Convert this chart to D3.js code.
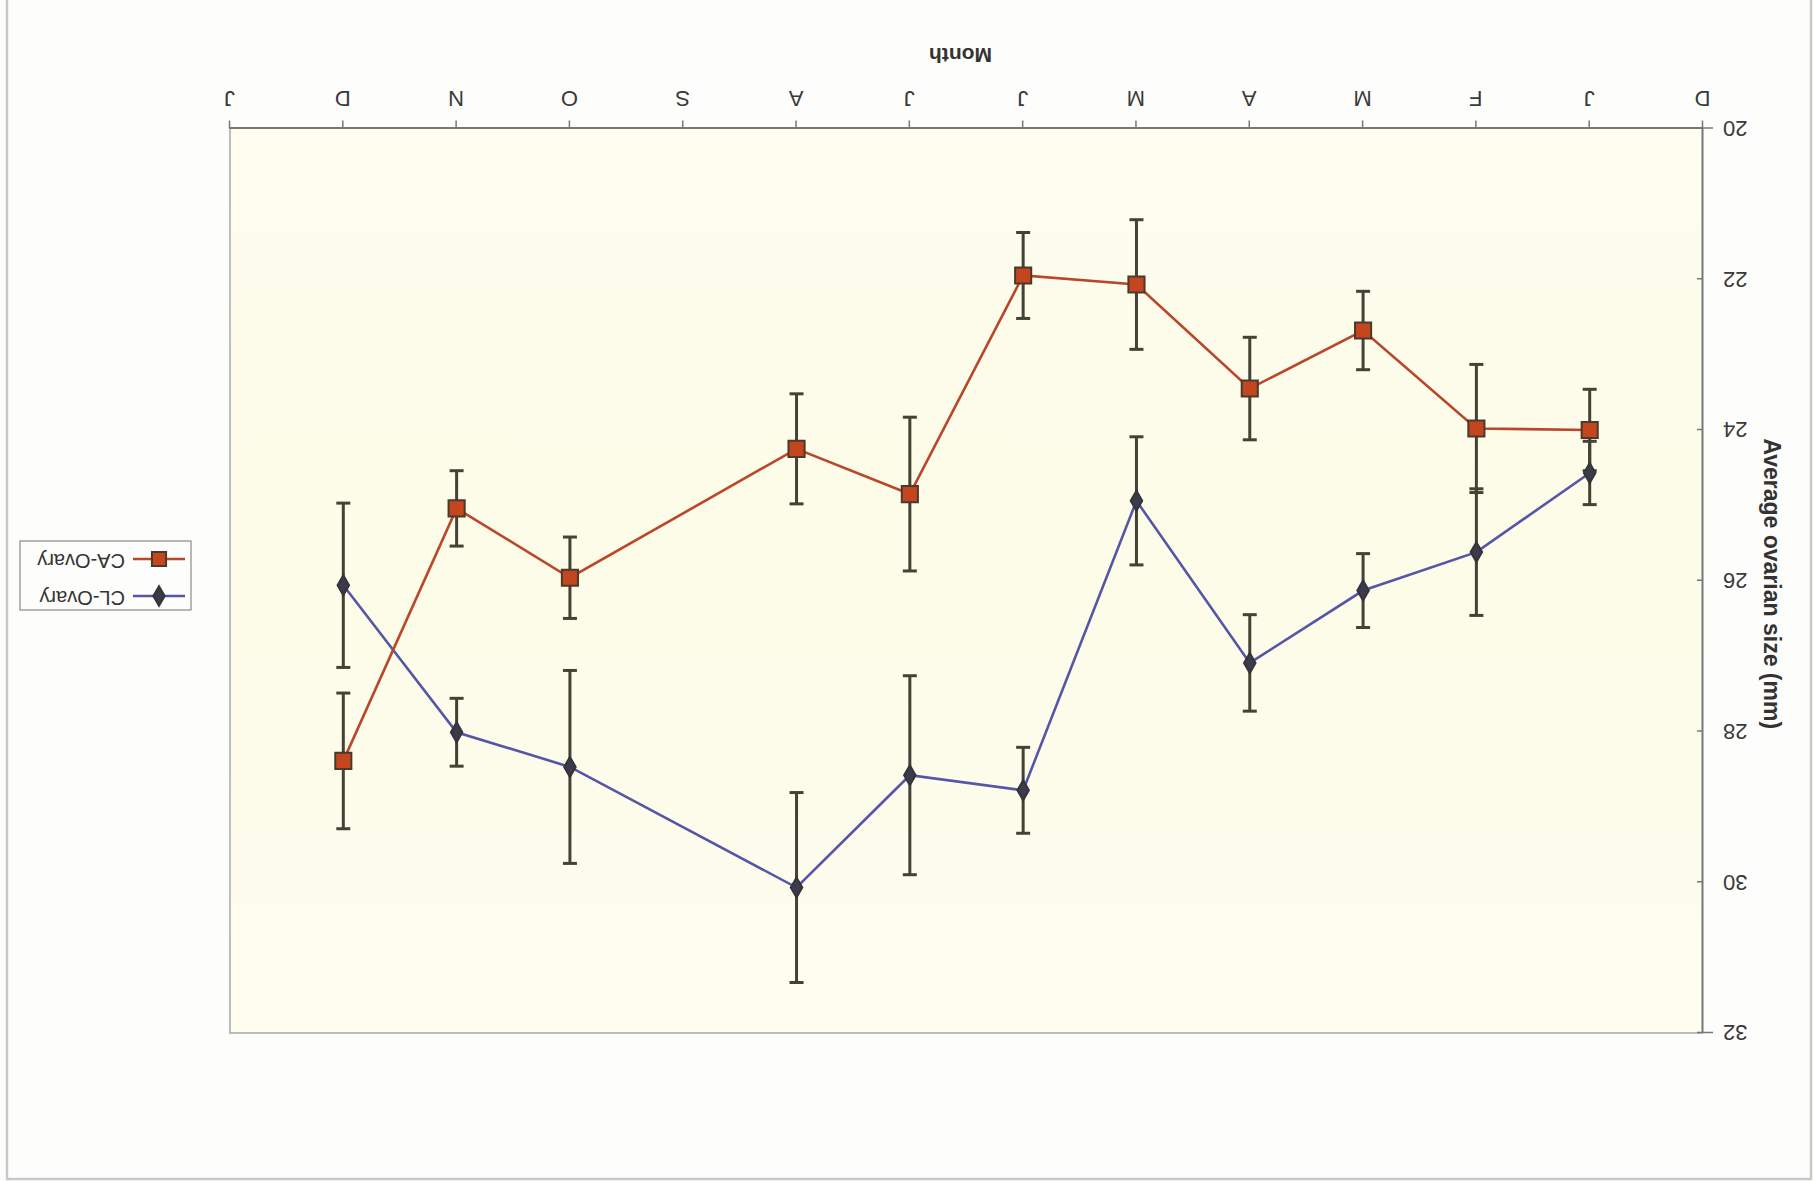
<!DOCTYPE html>
<html>
<head>
<meta charset="utf-8">
<script src="https://cdn.jsdelivr.net/npm/d3@7"></script>
<style>
  html, body { margin: 0; padding: 0; background: #fdfdfc; }
  svg { display: block; }
  text { font-family: "Liberation Sans", Arial, Helvetica, sans-serif; }
</style>
</head>
<body>
<svg id="chart" width="1814" height="1181"></svg>
<script>
// Month tick labels (December of previous year through January of next year)
const tickLabels = ["D", "J", "F", "M", "A", "M", "J", "J", "A", "S", "O", "N", "D", "J"];
// Month position on the axis for each observation (1 = Jan ... 12 = Dec)
const monthIndex = [1, 2, 3, 4, 5, 6, 7, 8, 9, 10, 11, 12];
// Average ovarian size (mm) per month; September was not sampled
const caOvary = [24.00, 23.98, 22.68, 23.45, 22.07, 21.95, 24.85, 24.25, null, 25.96, 25.04, 28.39];
const caError = [0.54, 0.85, 0.52, 0.68, 0.86, 0.57, 1.02, 0.73, null, 0.54, 0.50, 0.90];
const clOvary = [24.57, 25.62, 26.13, 27.09, 24.94, 28.78, 28.58, 30.07, null, 28.47, 28.01, 26.06];
const clError = [0.42, 0.84, 0.49, 0.64, 0.85, 0.57, 1.32, 1.26, null, 1.28, 0.45, 1.09];
const yTicks = [20, 22, 24, 26, 28, 30, 32];

const W = 1814, H = 1181;
const svg = d3.select("#chart");

// The whole figure is presented turned half a revolution
const root = svg.append("g").attr("transform", `rotate(180, ${W / 2}, ${H / 2})`);

// Outer frame
root.append("rect").attr("x", 0).attr("y", 0).attr("width", W).attr("height", H).attr("fill", "#fdfdfc");
root.append("path")
  .attr("d", `M3,${H} L3,2 L1807,2 L1807,${H}`)
  .attr("fill", "none").attr("stroke", "#c9c9c9").attr("stroke-width", 2.5);

const plot = { left: 111, right: 1584, top: 148, bottom: 1052.5 };

const x = d3.scaleLinear().domain([0, tickLabels.length - 1]).range([plot.left, plot.right]);
const y = d3.scaleLinear().domain([20, 32]).range([plot.bottom, plot.top]);

// Plot background
const grad = svg.append("defs").append("linearGradient")
  .attr("id", "bg").attr("x1", 0).attr("y1", 0).attr("x2", 0).attr("y2", 1);
grad.append("stop").attr("offset", "0%").attr("stop-color", "#fefdef");
grad.append("stop").attr("offset", "55%").attr("stop-color", "#fdfce8");
grad.append("stop").attr("offset", "100%").attr("stop-color", "#fefdef");
root.append("rect")
  .attr("x", plot.left).attr("y", plot.top)
  .attr("width", plot.right - plot.left).attr("height", plot.bottom - plot.top)
  .attr("fill", "url(#bg)");

// Plot area border (top and right)
root.append("path")
  .attr("d", `M${plot.left},${plot.top} L${plot.right},${plot.top} L${plot.right},${plot.bottom}`)
  .attr("fill", "none").attr("stroke", "#a8a8a8").attr("stroke-width", 1.5);

// X axis
const xAxis = d3.axisBottom(x)
  .tickValues(d3.range(tickLabels.length))
  .tickFormat(i => tickLabels[i])
  .tickSizeInner(8).tickSizeOuter(0).tickPadding(14);
const gx = root.append("g").attr("transform", `translate(0,${plot.bottom})`).call(xAxis);
gx.select(".domain").attr("stroke", "#777").attr("stroke-width", 2);
gx.selectAll(".tick line").attr("stroke", "#777").attr("stroke-width", 1.5);
gx.selectAll(".tick text").attr("fill", "#3a3a3a").attr("font-size", 22);

// Y axis (tick marks point into the plot)
const yAxis = d3.axisLeft(y).tickValues(yTicks).tickSizeInner(-6).tickSizeOuter(0).tickPadding(14);
const gy = root.append("g").attr("transform", `translate(${plot.left},0)`).call(yAxis);
gy.select(".domain").attr("stroke", "#777").attr("stroke-width", 2);
gy.selectAll(".tick line").attr("stroke", "#777").attr("stroke-width", 1.5);
gy.selectAll(".tick text").attr("fill", "#3a3a3a").attr("font-size", 22)
  .attr("x", -20);
// Short outward stubs at the ends of the value axis
gy.selectAll(".tick").filter(d => d === 20 || d === 32).append("line")
  .attr("x1", 0).attr("x2", -10).attr("stroke", "#777").attr("stroke-width", 1.5);

// Axis titles
root.append("text")
  .attr("x", (plot.left + plot.right) / 2 + 6).attr("y", 1127)
  .attr("text-anchor", "middle").attr("dominant-baseline", "middle")
  .attr("font-size", 21).attr("font-weight", "bold").attr("fill", "#333")
  .text("Month");
root.append("text")
  .attr("transform", `translate(44,${(plot.top + plot.bottom) / 2 - 3}) rotate(-90)`)
  .attr("text-anchor", "middle").attr("dominant-baseline", "middle")
  .attr("font-size", 23).attr("font-weight", "bold").attr("fill", "#333")
  .text("Average ovarian size (mm)");

// Series
const series = [
  { name: "CL-Ovary", values: clOvary, errors: clError, color: "#5656a8", shape: "diamond" },
  { name: "CA-Ovary", values: caOvary, errors: caError, color: "#b9472a", shape: "square" }
];

const symbolFor = s => s.shape === "square"
  ? d3.symbol().type(d3.symbolSquare).size(260)
  : d3.symbol().type(d3.symbolDiamond).size(115);

series.forEach(s => {
  s.points = monthIndex.map((m, i) => ({ m, v: s.values[i], e: s.errors[i] }))
    .filter(p => p.v != null);
});

const line = d3.line().x(p => x(p.m)).y(p => y(p.v));

// Lines
series.forEach(s => {
  root.append("path").datum(s.points)
    .attr("d", line).attr("fill", "none")
    .attr("stroke", s.color).attr("stroke-width", 2.6);
});

// Error bars
const errColor = "#424235";
series.forEach(s => {
  const g = root.append("g");
  s.points.forEach(p => {
    const cx = x(p.m), y0 = y(p.v - p.e), y1 = y(p.v + p.e);
    g.append("line").attr("x1", cx).attr("x2", cx).attr("y1", y0).attr("y2", y1)
      .attr("stroke", errColor).attr("stroke-width", 3);
    [y0, y1].forEach(yy => g.append("line")
      .attr("x1", cx - 7).attr("x2", cx + 7).attr("y1", yy).attr("y2", yy)
      .attr("stroke", errColor).attr("stroke-width", 3));
  });
});

// Markers
series.forEach(s => {
  root.append("g").selectAll("path").data(s.points).join("path")
    .attr("transform", p => `translate(${x(p.m)},${y(p.v)})`)
    .attr("d", symbolFor(s))
    .attr("fill", s.shape === "square" ? "#c4461f" : "#3b3b4c")
    .attr("stroke", s.shape === "square" ? "#4a3a2c" : "#34343a")
    .attr("stroke-width", 2);
});

// Legend
const lg = root.append("g").attr("transform", "translate(1623,571)");
lg.append("rect").attr("width", 171).attr("height", 69)
  .attr("fill", "#fdfdfc").attr("stroke", "#8a8a8a").attr("stroke-width", 1.2);
series.forEach((s, i) => {
  const cy = 14 + i * 37;
  lg.append("line").attr("x1", 6).attr("x2", 58).attr("y1", cy).attr("y2", cy)
    .attr("stroke", s.color).attr("stroke-width", 2.6);
  lg.append("path").attr("transform", `translate(32,${cy})`)
    .attr("d", s.shape === "square"
      ? d3.symbol().type(d3.symbolSquare).size(200)()
      : d3.symbol().type(d3.symbolDiamond).size(110)())
    .attr("fill", s.shape === "square" ? "#c4461f" : "#3b3b4c")
    .attr("stroke", s.shape === "square" ? "#4a3a2c" : "#34343a")
    .attr("stroke-width", 2);
  lg.append("text").attr("x", 66).attr("y", cy).attr("dominant-baseline", "middle")
    .attr("font-size", 20).attr("fill", "#333").text(s.name);
});
</script>
</body>
</html>
